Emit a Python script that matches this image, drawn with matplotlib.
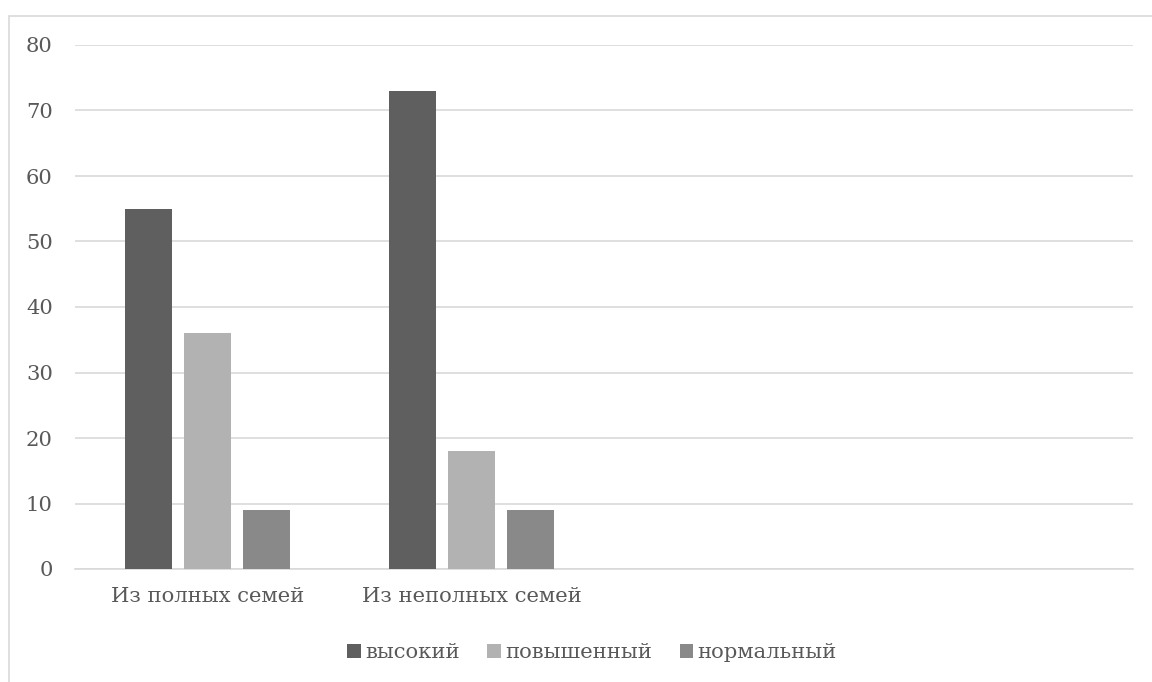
import matplotlib
matplotlib.use("Agg")
import matplotlib.pyplot as plt
from matplotlib.patches import Rectangle
import numpy as np

categories = ["Из полных семей", "Из неполных семей", "", ""]
series_names = ["высокий", "повышенный", "нормальный"]
vysokiy = [55, 73, 0, 0]
povyshenny = [36, 18, 0, 0]
normalny = [9, 9, 0, 0]
colors = ["#5f5f5f", "#b2b2b2", "#898989"]
yticks = [0, 10, 20, 30, 40, 50, 60, 70, 80]

plt.rcParams['font.family'] = ['DejaVu Serif']
text_color = "#595959"
fs = 15.2

fig = plt.figure(figsize=(11.52, 6.82), dpi=100)
fig.patches.append(Rectangle((9/1152, -0.1), 1.2, 1 - 16/682 + 0.1, transform=fig.transFigure,
                             fill=False, edgecolor="#d9d9d9", linewidth=1.2, zorder=0))
ax = fig.add_axes([75/1152, 1 - 569/682, (1133 - 75)/1152, (569 - 45)/682])

x = np.arange(len(categories))
w = 0.178
off = 0.223
data = [vysokiy, povyshenny, normalny]
for i, (vals, c, name) in enumerate(zip(data, colors, series_names)):
    ax.bar(x + (i - 1) * off, vals, width=w, color=c, label=name, zorder=3)

ax.set_xlim(-0.5, len(categories) - 0.5)
ax.set_ylim(0, 80)
ax.set_yticks(yticks)
ax.set_xticks(x)
ax.set_xticklabels(categories)
ax.grid(axis='y', color="#d9d9d9", linewidth=1.2, zorder=0)
for s in ["top", "right", "left"]:
    ax.spines[s].set_visible(False)
ax.spines["bottom"].set_color("#d9d9d9")
ax.spines["bottom"].set_linewidth(1.2)
ax.tick_params(axis='both', length=0, colors=text_color, labelsize=fs)
ax.tick_params(axis='y', pad=16)
ax.tick_params(axis='x', pad=13)

leg = ax.legend(loc='center', bbox_to_anchor=(592/1152, 1 - 653/682), bbox_transform=fig.transFigure,
                ncol=3, frameon=False, fontsize=fs, handlelength=0.65, handleheight=0.65,
                handletextpad=0.2, columnspacing=1.3)
for t in leg.get_texts():
    t.set_color(text_color)

fig.savefig("out.png", dpi=100)
